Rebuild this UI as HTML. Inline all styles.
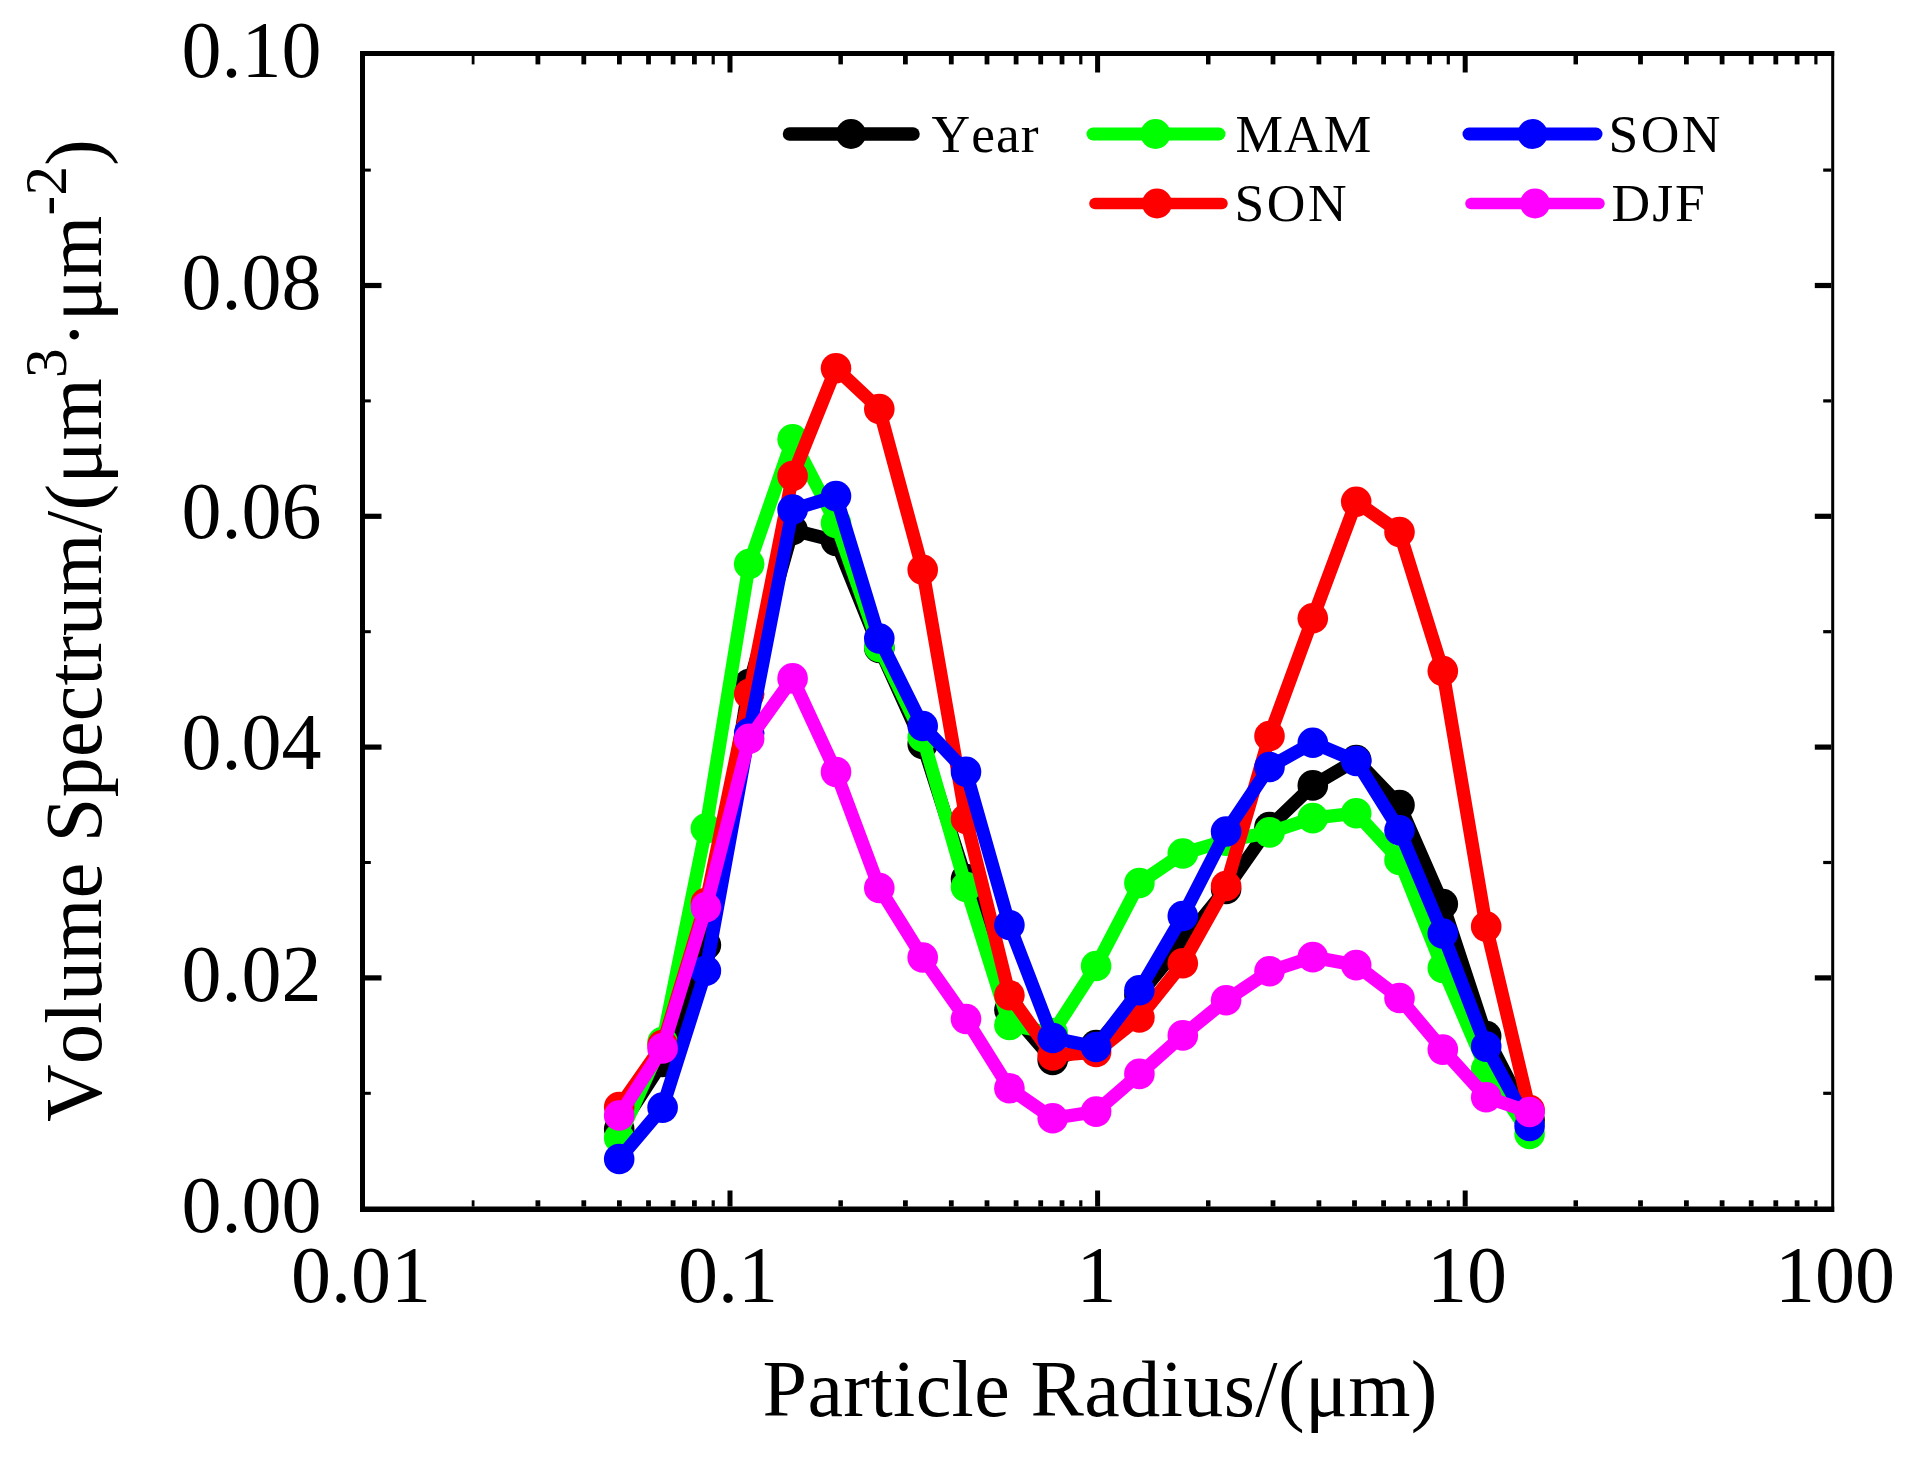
<!DOCTYPE html>
<html><head><meta charset="utf-8"><title>Volume Spectrum</title>
<style>html,body{margin:0;padding:0;background:#fff;}svg{display:block;}text{font-family:"Liberation Serif","DejaVu Serif",serif;fill:#000;font-kerning:none;}</style></head><body>
<svg width="1910" height="1463" viewBox="0 0 1910 1463">
<rect x="0" y="0" width="1910" height="1463" fill="#ffffff"/>
<g fill="#000000" stroke="none"><polyline points="619.2,1129.0 662.6,1062.0 705.9,945.0 749.2,684.0 792.6,530.0 836.0,541.0 879.3,648.0 922.7,744.0 966.0,879.0 1009.4,1010.0 1052.7,1060.0 1096.1,1045.0 1139.4,995.0 1182.8,942.0 1226.1,889.0 1269.5,827.0 1312.8,785.4 1356.2,760.0 1399.5,805.0 1442.8,904.0 1486.2,1036.0 1529.6,1120.0" fill="none" stroke="#000000" stroke-width="13.3" stroke-linejoin="round" stroke-linecap="round"/>
<circle cx="619.2" cy="1129.0" r="15.3"/><circle cx="662.6" cy="1062.0" r="15.3"/><circle cx="705.9" cy="945.0" r="15.3"/><circle cx="749.2" cy="684.0" r="15.3"/><circle cx="792.6" cy="530.0" r="15.3"/><circle cx="836.0" cy="541.0" r="15.3"/><circle cx="879.3" cy="648.0" r="15.3"/><circle cx="922.7" cy="744.0" r="15.3"/><circle cx="966.0" cy="879.0" r="15.3"/><circle cx="1009.4" cy="1010.0" r="15.3"/><circle cx="1052.7" cy="1060.0" r="15.3"/><circle cx="1096.1" cy="1045.0" r="15.3"/><circle cx="1139.4" cy="995.0" r="15.3"/><circle cx="1182.8" cy="942.0" r="15.3"/><circle cx="1226.1" cy="889.0" r="15.3"/><circle cx="1269.5" cy="827.0" r="15.3"/><circle cx="1312.8" cy="785.4" r="15.3"/><circle cx="1356.2" cy="760.0" r="15.3"/><circle cx="1399.5" cy="805.0" r="15.3"/><circle cx="1442.8" cy="904.0" r="15.3"/><circle cx="1486.2" cy="1036.0" r="15.3"/><circle cx="1529.6" cy="1120.0" r="15.3"/>
</g>
<g fill="#00ff00" stroke="none"><polyline points="619.2,1138.0 662.6,1042.0 705.9,828.5 749.2,564.0 792.6,439.2 836.0,523.0 879.3,647.0 922.7,737.0 966.0,887.0 1009.4,1025.0 1052.7,1033.0 1096.1,966.0 1139.4,883.0 1182.8,853.5 1226.1,840.7 1269.5,832.4 1312.8,818.1 1356.2,813.2 1399.5,860.0 1442.8,968.0 1486.2,1069.0 1529.6,1134.0" fill="none" stroke="#00ff00" stroke-width="13.3" stroke-linejoin="round" stroke-linecap="round"/>
<circle cx="619.2" cy="1138.0" r="15.3"/><circle cx="662.6" cy="1042.0" r="15.3"/><circle cx="705.9" cy="828.5" r="15.3"/><circle cx="749.2" cy="564.0" r="15.3"/><circle cx="792.6" cy="439.2" r="15.3"/><circle cx="836.0" cy="523.0" r="15.3"/><circle cx="879.3" cy="647.0" r="15.3"/><circle cx="922.7" cy="737.0" r="15.3"/><circle cx="966.0" cy="887.0" r="15.3"/><circle cx="1009.4" cy="1025.0" r="15.3"/><circle cx="1052.7" cy="1033.0" r="15.3"/><circle cx="1096.1" cy="966.0" r="15.3"/><circle cx="1139.4" cy="883.0" r="15.3"/><circle cx="1182.8" cy="853.5" r="15.3"/><circle cx="1226.1" cy="840.7" r="15.3"/><circle cx="1269.5" cy="832.4" r="15.3"/><circle cx="1312.8" cy="818.1" r="15.3"/><circle cx="1356.2" cy="813.2" r="15.3"/><circle cx="1399.5" cy="860.0" r="15.3"/><circle cx="1442.8" cy="968.0" r="15.3"/><circle cx="1486.2" cy="1069.0" r="15.3"/><circle cx="1529.6" cy="1134.0" r="15.3"/>
</g>
<g fill="#ff0000" stroke="none"><polyline points="619.2,1107.0 662.6,1045.0 705.9,903.0 749.2,694.0 792.6,476.0 836.0,368.3 879.3,409.0 922.7,569.8 966.0,819.0 1009.4,995.2 1052.7,1055.5 1096.1,1052.0 1139.4,1017.5 1182.8,963.3 1226.1,886.0 1269.5,736.0 1312.8,618.3 1356.2,501.8 1399.5,532.0 1442.8,671.0 1486.2,926.6 1529.6,1110.0" fill="none" stroke="#ff0000" stroke-width="13.3" stroke-linejoin="round" stroke-linecap="round"/>
<circle cx="619.2" cy="1107.0" r="15.3"/><circle cx="662.6" cy="1045.0" r="15.3"/><circle cx="705.9" cy="903.0" r="15.3"/><circle cx="749.2" cy="694.0" r="15.3"/><circle cx="792.6" cy="476.0" r="15.3"/><circle cx="836.0" cy="368.3" r="15.3"/><circle cx="879.3" cy="409.0" r="15.3"/><circle cx="922.7" cy="569.8" r="15.3"/><circle cx="966.0" cy="819.0" r="15.3"/><circle cx="1009.4" cy="995.2" r="15.3"/><circle cx="1052.7" cy="1055.5" r="15.3"/><circle cx="1096.1" cy="1052.0" r="15.3"/><circle cx="1139.4" cy="1017.5" r="15.3"/><circle cx="1182.8" cy="963.3" r="15.3"/><circle cx="1226.1" cy="886.0" r="15.3"/><circle cx="1269.5" cy="736.0" r="15.3"/><circle cx="1312.8" cy="618.3" r="15.3"/><circle cx="1356.2" cy="501.8" r="15.3"/><circle cx="1399.5" cy="532.0" r="15.3"/><circle cx="1442.8" cy="671.0" r="15.3"/><circle cx="1486.2" cy="926.6" r="15.3"/><circle cx="1529.6" cy="1110.0" r="15.3"/>
</g>
<g fill="#0000ff" stroke="none"><polyline points="619.2,1159.0 662.6,1107.6 705.9,970.8 749.2,733.0 792.6,509.5 836.0,496.1 879.3,638.5 922.7,726.0 966.0,771.7 1009.4,925.0 1052.7,1038.0 1096.1,1047.0 1139.4,990.2 1182.8,916.0 1226.1,831.5 1269.5,767.0 1312.8,742.7 1356.2,761.0 1399.5,830.3 1442.8,933.5 1486.2,1046.6 1529.6,1126.0" fill="none" stroke="#0000ff" stroke-width="13.3" stroke-linejoin="round" stroke-linecap="round"/>
<circle cx="619.2" cy="1159.0" r="15.3"/><circle cx="662.6" cy="1107.6" r="15.3"/><circle cx="705.9" cy="970.8" r="15.3"/><circle cx="749.2" cy="733.0" r="15.3"/><circle cx="792.6" cy="509.5" r="15.3"/><circle cx="836.0" cy="496.1" r="15.3"/><circle cx="879.3" cy="638.5" r="15.3"/><circle cx="922.7" cy="726.0" r="15.3"/><circle cx="966.0" cy="771.7" r="15.3"/><circle cx="1009.4" cy="925.0" r="15.3"/><circle cx="1052.7" cy="1038.0" r="15.3"/><circle cx="1096.1" cy="1047.0" r="15.3"/><circle cx="1139.4" cy="990.2" r="15.3"/><circle cx="1182.8" cy="916.0" r="15.3"/><circle cx="1226.1" cy="831.5" r="15.3"/><circle cx="1269.5" cy="767.0" r="15.3"/><circle cx="1312.8" cy="742.7" r="15.3"/><circle cx="1356.2" cy="761.0" r="15.3"/><circle cx="1399.5" cy="830.3" r="15.3"/><circle cx="1442.8" cy="933.5" r="15.3"/><circle cx="1486.2" cy="1046.6" r="15.3"/><circle cx="1529.6" cy="1126.0" r="15.3"/>
</g>
<g fill="#ff00ff" stroke="none"><polyline points="619.2,1115.5 662.6,1048.4 705.9,907.3 749.2,738.8 792.6,678.4 836.0,772.0 879.3,888.0 922.7,957.5 966.0,1019.0 1009.4,1088.2 1052.7,1118.3 1096.1,1111.6 1139.4,1073.9 1182.8,1035.4 1226.1,1000.2 1269.5,971.3 1312.8,957.1 1356.2,965.1 1399.5,998.0 1442.8,1049.6 1486.2,1097.2 1529.6,1112.0" fill="none" stroke="#ff00ff" stroke-width="13.3" stroke-linejoin="round" stroke-linecap="round"/>
<circle cx="619.2" cy="1115.5" r="15.3"/><circle cx="662.6" cy="1048.4" r="15.3"/><circle cx="705.9" cy="907.3" r="15.3"/><circle cx="749.2" cy="738.8" r="15.3"/><circle cx="792.6" cy="678.4" r="15.3"/><circle cx="836.0" cy="772.0" r="15.3"/><circle cx="879.3" cy="888.0" r="15.3"/><circle cx="922.7" cy="957.5" r="15.3"/><circle cx="966.0" cy="1019.0" r="15.3"/><circle cx="1009.4" cy="1088.2" r="15.3"/><circle cx="1052.7" cy="1118.3" r="15.3"/><circle cx="1096.1" cy="1111.6" r="15.3"/><circle cx="1139.4" cy="1073.9" r="15.3"/><circle cx="1182.8" cy="1035.4" r="15.3"/><circle cx="1226.1" cy="1000.2" r="15.3"/><circle cx="1269.5" cy="971.3" r="15.3"/><circle cx="1312.8" cy="957.1" r="15.3"/><circle cx="1356.2" cy="965.1" r="15.3"/><circle cx="1399.5" cy="998.0" r="15.3"/><circle cx="1442.8" cy="1049.6" r="15.3"/><circle cx="1486.2" cy="1097.2" r="15.3"/><circle cx="1529.6" cy="1112.0" r="15.3"/>
</g>
<g fill="#000">
<rect x="360" y="51" width="5" height="1161"/>
<rect x="360" y="51" width="1474.2" height="5"/>
<rect x="360" y="1206.5" width="1474.2" height="5.5"/>
<rect x="1831.2" y="51" width="3.0" height="1161"/>
<rect x="471.7" y="56" width="2.8" height="8.4"/>
<rect x="471.7" y="1200.3" width="2.8" height="6.2"/>
<rect x="535.5" y="56" width="4.8" height="8.4"/>
<rect x="535.5" y="1200.3" width="4.8" height="6.2"/>
<rect x="581.4" y="56" width="4.8" height="8.4"/>
<rect x="581.4" y="1200.3" width="4.8" height="6.2"/>
<rect x="617.0" y="56" width="4.8" height="8.4"/>
<rect x="617.0" y="1200.3" width="4.8" height="6.2"/>
<rect x="646.1" y="56" width="4.8" height="8.4"/>
<rect x="646.1" y="1200.3" width="4.8" height="6.2"/>
<rect x="670.7" y="56" width="4.8" height="8.4"/>
<rect x="670.7" y="1200.3" width="4.8" height="6.2"/>
<rect x="692.0" y="56" width="4.8" height="8.4"/>
<rect x="692.0" y="1200.3" width="4.8" height="6.2"/>
<rect x="711.6" y="56" width="3.2" height="8.4"/>
<rect x="711.6" y="1200.3" width="3.2" height="6.2"/>
<rect x="727.5" y="56" width="5" height="16.5"/>
<rect x="727.5" y="1190.5" width="5" height="16"/>
<rect x="838.4" y="56" width="4.5" height="8.4"/>
<rect x="838.4" y="1200.3" width="4.5" height="6.2"/>
<rect x="903.0" y="56" width="4.8" height="8.4"/>
<rect x="903.0" y="1200.3" width="4.8" height="6.2"/>
<rect x="948.9" y="56" width="4.8" height="8.4"/>
<rect x="948.9" y="1200.3" width="4.8" height="6.2"/>
<rect x="984.6" y="56" width="4.8" height="8.4"/>
<rect x="984.6" y="1200.3" width="4.8" height="6.2"/>
<rect x="1013.7" y="56" width="4.8" height="8.4"/>
<rect x="1013.7" y="1200.3" width="4.8" height="6.2"/>
<rect x="1038.3" y="56" width="4.8" height="8.4"/>
<rect x="1038.3" y="1200.3" width="4.8" height="6.2"/>
<rect x="1059.6" y="56" width="4.8" height="8.4"/>
<rect x="1059.6" y="1200.3" width="4.8" height="6.2"/>
<rect x="1079.2" y="56" width="3.2" height="8.4"/>
<rect x="1079.2" y="1200.3" width="3.2" height="6.2"/>
<rect x="1095.1" y="56" width="5" height="16.5"/>
<rect x="1095.1" y="1190.5" width="5" height="16"/>
<rect x="1206.0" y="56" width="4.5" height="8.4"/>
<rect x="1206.0" y="1200.3" width="4.5" height="6.2"/>
<rect x="1270.6" y="56" width="4.8" height="8.4"/>
<rect x="1270.6" y="1200.3" width="4.8" height="6.2"/>
<rect x="1316.5" y="56" width="4.8" height="8.4"/>
<rect x="1316.5" y="1200.3" width="4.8" height="6.2"/>
<rect x="1352.1" y="56" width="4.8" height="8.4"/>
<rect x="1352.1" y="1200.3" width="4.8" height="6.2"/>
<rect x="1381.2" y="56" width="4.8" height="8.4"/>
<rect x="1381.2" y="1200.3" width="4.8" height="6.2"/>
<rect x="1405.8" y="56" width="4.8" height="8.4"/>
<rect x="1405.8" y="1200.3" width="4.8" height="6.2"/>
<rect x="1427.1" y="56" width="4.8" height="8.4"/>
<rect x="1427.1" y="1200.3" width="4.8" height="6.2"/>
<rect x="1446.7" y="56" width="3.2" height="8.4"/>
<rect x="1446.7" y="1200.3" width="3.2" height="6.2"/>
<rect x="1462.7" y="56" width="5" height="16.5"/>
<rect x="1462.7" y="1190.5" width="5" height="16"/>
<rect x="1573.5" y="56" width="4.5" height="8.4"/>
<rect x="1573.5" y="1200.3" width="4.5" height="6.2"/>
<rect x="1638.1" y="56" width="4.8" height="8.4"/>
<rect x="1638.1" y="1200.3" width="4.8" height="6.2"/>
<rect x="1684.0" y="56" width="4.8" height="8.4"/>
<rect x="1684.0" y="1200.3" width="4.8" height="6.2"/>
<rect x="1719.7" y="56" width="4.8" height="8.4"/>
<rect x="1719.7" y="1200.3" width="4.8" height="6.2"/>
<rect x="1748.8" y="56" width="4.8" height="8.4"/>
<rect x="1748.8" y="1200.3" width="4.8" height="6.2"/>
<rect x="1773.4" y="56" width="4.8" height="8.4"/>
<rect x="1773.4" y="1200.3" width="4.8" height="6.2"/>
<rect x="1794.7" y="56" width="4.8" height="8.4"/>
<rect x="1794.7" y="1200.3" width="4.8" height="6.2"/>
<rect x="1814.3" y="56" width="3.2" height="8.4"/>
<rect x="1814.3" y="1200.3" width="3.2" height="6.2"/>
<rect x="365" y="1091.8" width="5.8" height="3"/>
<rect x="1823.2" y="1091.7" width="8" height="3.2"/>
<rect x="365" y="975.3" width="16.5" height="5.2"/>
<rect x="1814.8" y="975.3" width="16.4" height="5.2"/>
<rect x="365" y="861.0" width="5.8" height="3"/>
<rect x="1823.2" y="860.9" width="8" height="3.2"/>
<rect x="365" y="744.5" width="16.5" height="5.2"/>
<rect x="1814.8" y="744.5" width="16.4" height="5.2"/>
<rect x="365" y="630.2" width="5.8" height="3"/>
<rect x="1823.2" y="630.1" width="8" height="3.2"/>
<rect x="365" y="513.7" width="16.5" height="5.2"/>
<rect x="1814.8" y="513.7" width="16.4" height="5.2"/>
<rect x="365" y="399.4" width="5.8" height="3"/>
<rect x="1823.2" y="399.3" width="8" height="3.2"/>
<rect x="365" y="282.9" width="16.5" height="5.2"/>
<rect x="1814.8" y="282.9" width="16.4" height="5.2"/>
<rect x="365" y="168.6" width="5.8" height="3"/>
<rect x="1823.2" y="168.5" width="8" height="3.2"/>
</g>
<g font-size="80" text-anchor="end">
<text x="321.5" y="1232.3">0.00</text>
<text x="321.5" y="1000.6">0.02</text>
<text x="321.5" y="769.1">0.04</text>
<text x="321.5" y="537.6">0.06</text>
<text x="321.5" y="309.1">0.08</text>
<text x="321.5" y="76.6">0.10</text>
</g>
<g font-size="80" text-anchor="middle">
<text x="361" y="1301.8">0.01</text>
<text x="728" y="1301.8">0.1</text>
<text x="1096.5" y="1301.8">1</text>
<text x="1467" y="1301.8">10</text>
<text x="1835" y="1301.8">100</text>
</g>
<text x="762.5" y="1416" font-size="80" textLength="675" lengthAdjust="spacing">Particle Radius/(μm)</text>
<text transform="translate(101,1122) rotate(-90)" font-size="80" textLength="983" lengthAdjust="spacing">Volume Spectrum/(μm<tspan font-size="59" dy="-35.5">3</tspan><tspan dy="35.5">·μm</tspan><tspan font-size="59" dy="-35.5">-2</tspan><tspan dy="35.5">)</tspan></text>
<line x1="789.5" y1="134" x2="913" y2="134" stroke="#000000" stroke-width="13.5" stroke-linecap="round"/>
<circle cx="851" cy="134" r="15" fill="#000000"/>
<text x="931.6" y="151.5" font-size="53.5" style="font-kerning:none" letter-spacing="1">Year</text>
<line x1="1093" y1="134" x2="1219" y2="134" stroke="#00ff00" stroke-width="13" stroke-linecap="round"/>
<circle cx="1155.5" cy="134" r="15" fill="#00ff00"/>
<text x="1235.5" y="151.5" font-size="53.5" style="font-kerning:none" letter-spacing="1">MAM</text>
<line x1="1095" y1="203.5" x2="1222" y2="203.5" stroke="#ff0000" stroke-width="11.5" stroke-linecap="round"/>
<circle cx="1157" cy="203.5" r="15" fill="#ff0000"/>
<text x="1234.5" y="221.0" font-size="53.5" style="font-kerning:none" letter-spacing="2.5">SON</text>
<line x1="1469" y1="134" x2="1596" y2="134" stroke="#0000ff" stroke-width="13" stroke-linecap="round"/>
<circle cx="1532.5" cy="134" r="15" fill="#0000ff"/>
<text x="1608.4" y="151.5" font-size="53.5" style="font-kerning:none" letter-spacing="2.5">SON</text>
<line x1="1471" y1="203.5" x2="1599" y2="203.5" stroke="#ff00ff" stroke-width="11.5" stroke-linecap="round"/>
<circle cx="1535" cy="203.5" r="15" fill="#ff00ff"/>
<text x="1611.5" y="221.0" font-size="53.5" style="font-kerning:none" letter-spacing="2">DJF</text>
</svg></body></html>
